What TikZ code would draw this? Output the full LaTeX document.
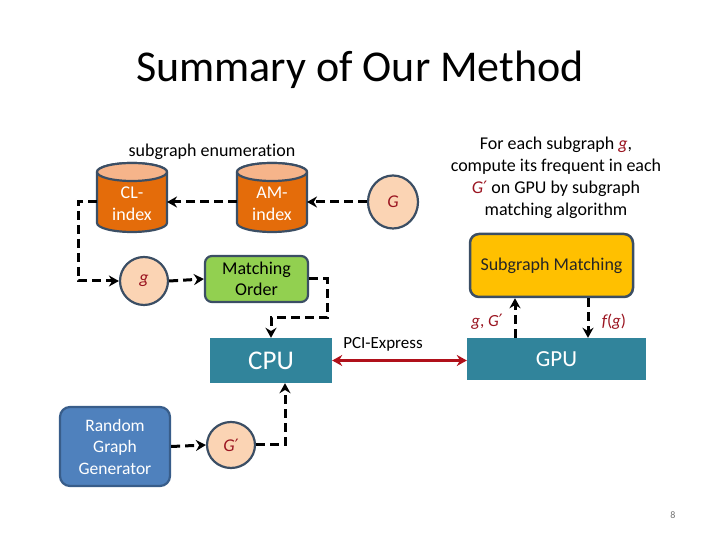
\documentclass[tikz,border=0pt]{standalone}
\usepackage{fontspec}
\setmainfont{Carlito}[Ligatures=NoCommon]
\newfontfamily\dvfont{DejaVu Sans}
\usetikzlibrary{arrows.meta,calc,shapes.geometric}
\definecolor{cylbody}{HTML}{E46C0A}
\definecolor{cyltop}{HTML}{F6B48A}
\definecolor{circfill}{HTML}{FBD4B4}
\definecolor{darkline}{HTML}{3B4E64}
\definecolor{greenbox}{HTML}{92D050}
\definecolor{yellowbox}{HTML}{FFC000}
\definecolor{teal}{HTML}{31849B}
\definecolor{bluebox}{HTML}{4F81BD}
\definecolor{blueline}{HTML}{385D8A}
\definecolor{redarrow}{HTML}{B0101A}
\definecolor{vartext}{HTML}{9A1420}
\newcommand{\fs}[2]{\fontsize{#1}{#2}\selectfont}
\newcommand{\var}[1]{\textcolor{vartext}{\itshape #1}}
\newcommand{\prm}{\textcolor{vartext}{{\dvfont\fontsize{17}{18}\selectfont ′}}}
\tikzset{
  dasharrow/.style={line width=3pt, dash pattern=on 9pt off 5pt, -{Stealth[length=10pt,width=11pt]}},
  circnode/.style={ellipse, draw=darkline, line width=2.2pt, fill=circfill, minimum width=48pt, minimum height=48pt, inner sep=0pt, font=\fs{18}{20}},
  cyltext/.style={text=white, align=center, font=\fs{18}{22}, inner sep=0pt},
  boxtext/.style={align=center, inner sep=0pt},
}
\begin{document}
\begin{tikzpicture}[x=1pt,y=1pt]
\useasboundingbox (0,0) rectangle (720,540);
% title
\node[font=\fs{44}{48}] (title) at (360,470) {Summary of Our Method};
\node[font=\fs{18}{20}] (enum) at (212,388) {subgraph enumeration};
% cylinders
\foreach \cx in {132,272}{
  \filldraw[fill=cylbody, draw=darkline, line width=2.2pt]
    (\cx-35,368) -- (\cx-35,317) arc[start angle=180,end angle=360,x radius=35,y radius=9]
    -- (\cx+35,368) arc[start angle=0,end angle=180,x radius=35,y radius=9] -- cycle;
  \filldraw[fill=cyltop, draw=darkline, line width=2.2pt] (\cx,368) ellipse [x radius=35, y radius=9];
}
\node[cyltext] (cl) at (132,336) {CL-\\index};
\node[cyltext] (am) at (272,336) {AM-\\index};
\coordinate (clw) at (97,338);
\coordinate (cle) at (167,338);
\coordinate (amw) at (237,338);
\coordinate (ame) at (307,338);
% circles
\node[circnode, minimum width=50pt, minimum height=53pt] (G) at (393,338) {\var{G}};
\node[circnode] (g) at (144,259) {\var{g}};
\node[circnode, minimum height=46pt] (gp) at (231,95) {\var{G}\prm};
% matching order
\node[draw=darkline, line width=2.2pt, fill=greenbox, rounded corners=7pt, minimum width=103pt, minimum height=46pt, boxtext, font=\fs{18}{21}] (mo) at (256.5,261) {Matching\\Order};
% CPU, GPU
\node[fill=teal, minimum width=122pt, minimum height=45pt, inner sep=0pt, text=white, font=\fs{27}{29}] (cpu) at (271,179.5) {CPU};
\node[fill=teal, minimum width=179pt, minimum height=42pt, inner sep=0pt, text=white, font=\fs{23}{25}] (gpu) at (556.5,181) {GPU};
% subgraph matching
\node[draw=darkline, line width=2.5pt, fill=yellowbox, rounded corners=9pt, minimum width=163pt, minimum height=63pt, inner sep=0pt, font=\fs{18}{20}, text=black!85] (sm) at (551.5,274.5) {Subgraph Matching};
% random graph generator
\node[draw=blueline, line width=2.2pt, fill=bluebox, rounded corners=10pt, minimum width=110pt, minimum height=79pt, boxtext, text=white, font=\fs{17.5}{21.5}] (rgg) at (115,93.5) {Random\\Graph\\Generator};
% description text
\node[boxtext, font=\fs{18}{21.8}] (desc) at (556,362) {For each subgraph \var{g},\\compute its frequent in each\\\var{G}\prm{} on GPU by subgraph\\matching algorithm};
% connectors
\draw[dasharrow] (G.west) -- (ame);
\draw[dasharrow] (amw) -- (cle);
\coordinate (c1) at (78,338);
\draw[dasharrow] (clw) -- (c1) |- (g.west);
\draw[dasharrow] (g.east) -- (mo.west);
\coordinate (c2) at (327,222);
\draw[dasharrow] (mo.east) -| (c2) -| (cpu.north);
\draw[dasharrow] (rgg.east) -- (gp.west);
\draw[dasharrow] (gp.east) -| ($(cpu.south)+(14,0)$);
\draw[redarrow, line width=3pt, {Stealth[length=10pt,width=11pt]}-{Stealth[length=10pt,width=11pt]}] (cpu.east) -- (gpu.west |- cpu.east);
\node[font=\fs{17}{18}] (pci) at (383,196) {PCI-Express};
\draw[dasharrow] ($(gpu.north)+(-41.5,0)$) -- ($(sm.south)+(-36.5,0)$);
\draw[dasharrow] ($(sm.south)+(36.5,0)$) -- ($(gpu.north)+(31.5,0)$);
\node[font=\fs{17}{18}] (lab1) at (487,218) {\var{g}\textcolor{vartext}{, }\var{G}\prm};
\node[font=\fs{17}{18}] (lab2) at (614,218) {\var{f}\textcolor{vartext}{(}\var{g}\textcolor{vartext}{)}};
\node[font=\fs{10}{11}, text=black!55] (page) at (673,25) {8};
\end{tikzpicture}
\end{document}
